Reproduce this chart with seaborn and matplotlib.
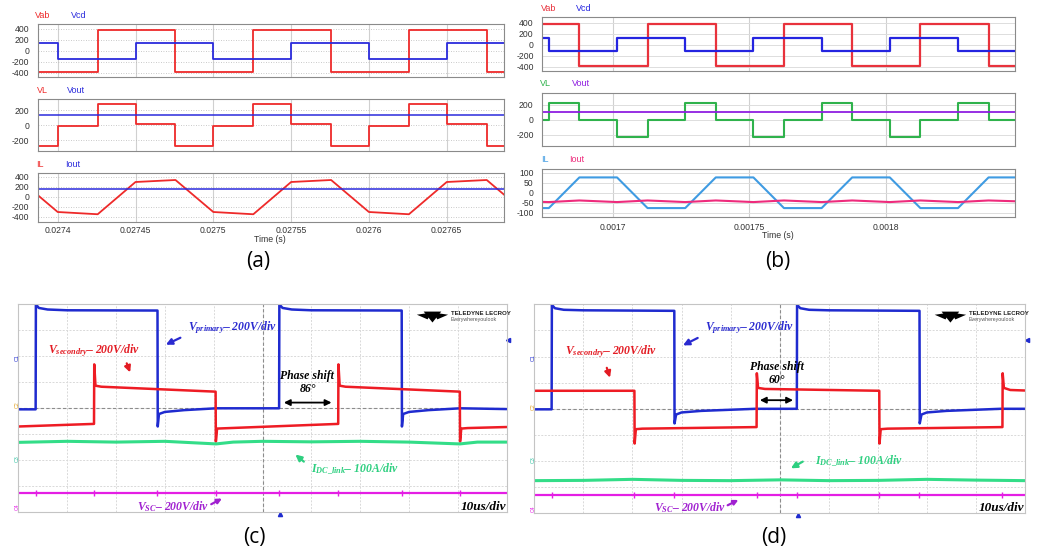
import numpy as np
import matplotlib
matplotlib.use("Agg")
import matplotlib.pyplot as plt
import seaborn as sns

# ---------------- data ----------------
# (a) simulation, time in s
A_XLIM = (0.02738715, 0.0276868)
A_XTICKS = [0.0274, 0.02745, 0.0275, 0.02755, 0.0276, 0.02765]
A_XTICKLABELS = ["0.0274", "0.02745", "0.0275", "0.02755", "0.0276", "0.02765"]
a_vab_edges = [0.0274257, 0.0274757, 0.0275257, 0.0275757, 0.0276257, 0.0276757]
a_vab_levels = [-385, 385, -385, 385, -385, 385, -385]
a_vcd_edges = [0.0274, 0.02745, 0.0275, 0.02755, 0.0276, 0.02765]
a_vcd_levels = [140, -140, 140, -140, 140, -140, 140]
a_vl_edges = [0.0274, 0.0274257, 0.02745, 0.0274757, 0.0275, 0.0275257,
              0.02755, 0.0275757, 0.0276, 0.0276257, 0.02765, 0.0276757]
a_vl_levels = [-280, -12, 282, 10, -280, -12, 282, 10, -280, -12, 282, 10, -280]
a_vout = 130
a_il_t = [0.0273757, 0.0274, 0.0274257, 0.02745, 0.0274757, 0.0275, 0.0275257,
          0.02755, 0.0275757, 0.0276, 0.0276257, 0.02765, 0.0276757, 0.0277]
a_il_v = [340, -300, -345, 300, 340, -300, -345, 300, 340, -300, -345, 300, 340, -300]
a_iout = 162

# (b) simulation, time in s
B_XLIM = (0.001674, 0.0018475)
B_XTICKS = [0.0017, 0.00175, 0.0018]
B_XTICKLABELS = ["0.0017", "0.00175", "0.0018"]
b_vab_edges = [0.0016877, 0.0017127, 0.0017377, 0.0017627, 0.0017877, 0.0018127, 0.0018377]
b_vab_levels = [380, -383, 380, -383, 380, -383, 380, -383]
b_vcd_edges = [0.0016765, 0.0017015, 0.0017265, 0.0017515, 0.0017765, 0.0018015, 0.0018265]
b_vcd_levels = [112, -118, 112, -118, 112, -118, 112, -118]
b_vl_edges = [0.0016765, 0.0016877, 0.0017015, 0.0017127, 0.0017265, 0.0017377, 0.0017515,
              0.0017627, 0.0017765, 0.0017877, 0.0018015, 0.0018127, 0.0018265, 0.0018377]
b_vl_levels = [0, 220, 0, -228, 0, 220, 0, -228, 0, 220, 0, -228, 0, 220, 0]
b_vout = 110
b_il_t = [0.001674, 0.0016765, 0.0016877, 0.0017015, 0.0017127, 0.0017265, 0.0017377, 0.0017515,
          0.0017627, 0.0017765, 0.0017877, 0.0018015, 0.0018127, 0.0018265, 0.0018377, 0.0018475]
b_il_v = [-77, -77, 76, 76, -77, -77, 76, 76, -77, -77, 76, 76, -77, -77, 76, 76]
b_iout_v = [-46, -47, -39, -47, -39, -47, -39, -47, -39, -47, -39, -47, -39, -47, -39, -43]

# (c) oscilloscope, x and y in divisions
c_blue_x = [0, 0.355, 0.36, 0.42, 0.6, 1.0, 2.85, 2.855, 2.88, 3.0, 3.4, 4.05, 5.34, 5.345,
            5.41, 5.6, 6.0, 7.85, 7.855, 7.88, 8.0, 8.4, 9.05, 10]
c_blue_y = [-0.04, -0.04, 4.0, 3.86, 3.8, 3.77, 3.76, -0.7, -0.22, -0.14, -0.07, 0.0, 0.0, 4.0,
            3.86, 3.8, 3.77, 3.76, -0.7, -0.22, -0.14, -0.07, 0.0, -0.03]
c_red_x = [0, 1.55, 1.555, 1.58, 1.7, 4.04, 4.045, 4.07, 4.2, 6.55, 6.555, 6.58, 6.7, 9.04,
           9.045, 9.07, 9.2, 10]
c_red_y = [-0.7, -0.6, 1.69, 0.87, 0.83, 0.64, -1.28, -0.78, -0.77, -0.6, 1.69, 0.87, 0.83, 0.64,
           -1.28, -0.78, -0.76, -0.72]
c_green_x = [0, 1.0, 2.0, 3.0, 4.05, 4.4, 5.0, 6.0, 7.0, 8.0, 9.04, 9.4, 10]
c_green_y = [-1.31, -1.27, -1.3, -1.27, -1.37, -1.3, -1.27, -1.29, -1.27, -1.3, -1.37, -1.3, -1.3]
c_vsc = -3.24
c_switch = [0.355, 1.55, 2.85, 4.04, 5.34, 6.55, 7.85, 9.04]

# (d) oscilloscope
d_blue_x = [0, 0.353, 0.358, 0.42, 0.6, 1.0, 2.853, 2.858, 2.89, 3.0, 3.4, 4.5, 5.35, 5.355,
            5.42, 5.6, 6.0, 7.85, 7.855, 7.89, 8.0, 8.4, 9.5, 10]
d_blue_y = [-0.02, -0.02, 3.98, 3.85, 3.79, 3.77, 3.75, -0.56, -0.22, -0.14, -0.08, 0.0, 0.0, 3.98,
            3.85, 3.79, 3.77, 3.75, -0.56, -0.22, -0.14, -0.08, 0.0, 0.0]
d_red_x = [0, 2.04, 2.045, 2.07, 2.2, 4.53, 4.535, 4.56, 4.7, 7.03, 7.035, 7.06, 7.2, 9.54,
           9.545, 9.57, 9.7, 10]
d_red_y = [0.69, 0.69, -1.33, -0.78, -0.76, -0.7, 1.36, 0.8, 0.76, 0.69, -1.33, -0.78, -0.76, -0.7,
           1.36, 0.8, 0.72, 0.7]
d_green_x = [0, 1.0, 2.0, 3.0, 4.0, 5.0, 6.0, 7.0, 8.0, 9.0, 10]
d_green_y = [-2.75, -2.74, -2.7, -2.74, -2.75, -2.72, -2.75, -2.74, -2.7, -2.73, -2.75]
d_vsc = -3.31
d_switch = [0.353, 2.04, 2.853, 4.53, 5.35, 7.03, 7.85, 9.54]

# ---------------- style ----------------
sns.set_theme(style="white")
plt.rcParams["font.family"] = ["Liberation Sans", "DejaVu Sans"]
plt.rcParams["mathtext.fontset"] = "custom"
plt.rcParams["mathtext.it"] = "Liberation Serif:italic:bold"
plt.rcParams["mathtext.rm"] = "Liberation Serif:bold"
plt.rcParams["mathtext.bf"] = "Liberation Serif:bold"

W, H = 1042, 559
fig = plt.figure(figsize=(W / 100, H / 100), dpi=100)


def box(l, t, r, b):
    return [l / W, 1 - b / H, (r - l) / W, (b - t) / H]


def steps(edges, levels, x0, x1):
    xs, ys = [x0], [levels[0]]
    for e, lo, hi in zip(edges, levels[:-1], levels[1:]):
        xs += [e, e]
        ys += [lo, hi]
    xs.append(x1)
    ys.append(levels[-1])
    return xs, ys


def line(ax, x, y, color, lw):
    sns.lineplot(x=x, y=y, ax=ax, color=color, lw=lw, estimator=None, sort=False, legend=False)


def sim_axes(ax, xlim, xticks, xlabels, ylim, yticks, show_x):
    ax.set_xlim(xlim)
    ax.set_ylim(ylim)
    ax.set_xticks(xticks)
    ax.set_yticks(yticks)
    ax.set_yticklabels([str(v) for v in yticks])
    ax.set_xticklabels(xlabels if show_x else [])
    ax.tick_params(length=0, labelsize=6.2, colors="#333333", pad=6)
    ax.grid(axis="x", color="#d0d0d0", lw=0.8)
    ax.grid(axis="y", color="#b8b8b8", lw=0.6, ls=(0, (1, 2)))
    ax.set_xlabel("")
    ax.set_ylabel("")
    for s in ax.spines.values():
        s.set_color("#8a8a8a")
        s.set_linewidth(0.8)


def fig_label(x, y, txt, color, size=6.5):
    fig.text(x / W, 1 - y / H, txt, color=color, fontsize=size, ha="center", va="center")


# ---------------- panel (a) ----------------
RED_A, BLUE_A = "#ee2a2a", "#2b2bdc"
a1 = fig.add_axes(box(37.7, 24, 504, 76.7))
x, y = steps(a_vab_edges, a_vab_levels, 0.02738, 0.0277)
line(a1, x, y, RED_A, 1.3)
x, y = steps(a_vcd_edges, a_vcd_levels, 0.02738, 0.0277)
line(a1, x, y, BLUE_A, 1.3)
sim_axes(a1, A_XLIM, A_XTICKS, A_XTICKLABELS, (-470, 490), [400, 200, 0, -200, -400], False)

a2 = fig.add_axes(box(37.7, 98.7, 504, 151))
x, y = steps(a_vl_edges, a_vl_levels, 0.02738, 0.0277)
line(a2, x, y, RED_A, 1.3)
line(a2, [0.02738, 0.0277], [a_vout, a_vout], BLUE_A, 1.1)
sim_axes(a2, A_XLIM, A_XTICKS, A_XTICKLABELS, (-348, 356), [200, 0, -200], False)

a3 = fig.add_axes(box(37.7, 173.3, 504, 221.7))
line(a3, a_il_t, a_il_v, RED_A, 1.3)
line(a3, [0.02738, 0.0277], [a_iout, a_iout], BLUE_A, 1.1)
sim_axes(a3, A_XLIM, A_XTICKS, A_XTICKLABELS, (-494, 474), [400, 200, 0, -200, -400], True)
a3.tick_params(axis="x", pad=3)

fig_label(43, 15.7, "Vab", RED_A)
fig_label(79, 15.7, "Vcd", BLUE_A)
fig_label(42, 90.7, "VL", RED_A)
fig_label(76, 90.7, "Vout", BLUE_A)
fig_label(40, 164.3, "IL", RED_A)
fig_label(72.7, 164.3, "Iout", BLUE_A)
fig_label(270, 240, "Time (s)", "#333333", 6.3)

# ---------------- panel (b) ----------------
RED_B, BLUE_B, GREEN_B = "#e8323c", "#2424e0", "#2fb24c"
PURPLE_B, LBLUE_B, PINK_B = "#8f1fe0", "#3f9be2", "#ee2b7c"
b1 = fig.add_axes(box(542, 17.3, 1015.3, 71))
x, y = steps(b_vab_edges, b_vab_levels, 0.00167, 0.00185)
line(b1, x, y, RED_B, 1.6)
x, y = steps(b_vcd_edges, b_vcd_levels, 0.00167, 0.00185)
line(b1, x, y, BLUE_B, 1.6)
sim_axes(b1, B_XLIM, B_XTICKS, B_XTICKLABELS, (-478, 495), [400, 200, 0, -200, -400], False)

b2 = fig.add_axes(box(542, 93.3, 1015.3, 146))
x, y = steps(b_vl_edges, b_vl_levels, 0.00167, 0.00185)
line(b2, x, y, GREEN_B, 1.5)
line(b2, [0.00167, 0.00185], [b_vout, b_vout], PURPLE_B, 1.3)
sim_axes(b2, B_XLIM, B_XTICKS, B_XTICKLABELS, (-355, 358), [200, 0, -200], False)

b3 = fig.add_axes(box(542, 169, 1015.3, 217.3))
line(b3, b_il_t, b_il_v, LBLUE_B, 1.5)
line(b3, b_il_t, b_iout_v, PINK_B, 1.5)
sim_axes(b3, B_XLIM, B_XTICKS, B_XTICKLABELS, (-123, 118), [100, 50, 0, -50, -100], True)
b3.tick_params(axis="x", pad=4)
for ax in (b1, b2, b3):
    ax.grid(axis="y", color="#dddddd", lw=0.7, ls="-")

fig_label(549, 8.3, "Vab", RED_B)
fig_label(584, 8.3, "Vcd", BLUE_B)
fig_label(545, 84, "VL", GREEN_B)
fig_label(581, 84, "Vout", PURPLE_B)
fig_label(545, 159, "IL", LBLUE_B)
fig_label(577, 159, "Iout", PINK_B)
fig_label(778, 235, "Time (s)", "#333333", 6.3)

# ---------------- panels (c), (d) ----------------
S_BLUE, S_RED, S_GREEN, S_MAG = "#1f2bcf", "#ee1c24", "#33dd88", "#e41ee4"
T_BLUE, T_RED, T_GREEN, T_VIO = "#2a2ad0", "#e31b23", "#2ecf80", "#a020d0"
serif = dict(family="Liberation Serif", weight="bold", style="italic")
TXT = 8.5


def scope_axes(ax):
    ax.set_xlim(0, 10)
    ax.set_ylim(-4, 4)
    ax.set_xticks([])
    ax.set_yticks([])
    for v in range(1, 10):
        ax.axvline(v, color="#d9d9d9", lw=0.7, ls=(0, (2, 1.5)), zorder=0)
    for h in range(-3, 4):
        ax.axhline(h, color="#d9d9d9", lw=0.7, ls=(0, (2, 1.5)), zorder=0)
    ax.axvline(5, color="#8c8c8c", lw=0.8, ls=(0, (3, 2)), zorder=0)
    ax.axhline(0, color="#8c8c8c", lw=0.8, ls=(0, (3, 2)), zorder=0)
    for s in ax.spines.values():
        s.set_color("#c4c4c4")
        s.set_linewidth(0.8)
    # logo
    ax.fill([8.3, 8.66, 8.48], [3.72, 3.72, 3.3], color="black", lw=0)
    ax.fill([8.16, 8.46, 8.38], [3.6, 3.68, 3.42], color="black", lw=0)
    ax.fill([8.5, 8.8, 8.58], [3.68, 3.6, 3.42], color="black", lw=0)
    ax.text(8.85, 3.64, "TELEDYNE LECROY", fontsize=4.4, weight="bold", color="#222222",
            ha="left", va="center", family="Liberation Sans")
    ax.text(8.85, 3.42, "Everywhereyoulook", fontsize=3.8, color="#555555",
            ha="left", va="center", family="Liberation Sans")
    ax.text(9.98, -3.78, "10us/div", fontsize=9.5, color="black", ha="right", va="center", **serif)


def scope(ax, bx, by, rx, ry, gx, gy, vsc, switch):
    line(ax, bx, by, S_BLUE, 1.8)
    line(ax, rx, ry, S_RED, 1.8)
    line(ax, gx, gy, S_GREEN, 2.2)
    line(ax, [0, 10], [vsc, vsc], S_MAG, 1.6)
    sns.scatterplot(x=switch, y=[vsc] * len(switch), ax=ax, marker="|", s=14,
                    color=S_MAG, linewidth=1.0, legend=False)
    scope_axes(ax)


def arrow(ax, start, end, color, style="-|>", lw=1.6, ms=9):
    ax.annotate("", xy=end, xytext=start,
                arrowprops=dict(arrowstyle=style, color=color, lw=lw, mutation_scale=ms))


def chan_marks(ax, ys):
    cols = [S_BLUE, "#e0a020", "#30c0a0", S_MAG]
    for yv, name, c in zip(ys, ["C1", "C2", "C3", "C4"], cols):
        ax.text(-0.03, yv, name, fontsize=3.8, color=c, rotation=90, ha="center", va="center",
                clip_on=False)


c_ax = fig.add_axes(box(18.3, 304.3, 506.7, 512.3))
scope(c_ax, c_blue_x, c_blue_y, c_red_x, c_red_y, c_green_x, c_green_y, c_vsc, c_switch)
c_ax.text(3.48, 3.12, r"$V_{primary}$– 200V/div", color=T_BLUE, fontsize=TXT, ha="left", va="center", **serif)
arrow(c_ax, (3.37, 2.76), (2.97, 2.40), T_BLUE)
c_ax.text(0.61, 2.2, r"$V_{secondry}$– 200V/div", color=T_RED, fontsize=TXT, ha="left", va="center", **serif)
arrow(c_ax, (2.2, 1.83), (2.31, 1.28), T_RED)
c_ax.text(5.92, 1.24, "Phase shift", color="black", fontsize=TXT, ha="center", va="center", **serif)
c_ax.text(5.94, 0.74, "86°", color="black", fontsize=TXT, ha="center", va="center", **serif)
arrow(c_ax, (5.38, 0.22), (6.47, 0.22), "black", "<|-|>", 1.3)
c_ax.text(6.0, -2.31, r"$I_{DC\_link}$– 100A/div", color=T_GREEN, fontsize=TXT, ha="left", va="center", **serif)
arrow(c_ax, (5.89, -2.12), (5.63, -1.71), T_GREEN)
c_ax.text(2.44, -3.78, r"$V_{SC}$– 200V/div", color=T_VIO, fontsize=TXT, ha="left", va="center", **serif)
arrow(c_ax, (3.9, -3.74), (4.22, -3.42), T_VIO, ms=7)
chan_marks(c_ax, [1.96, 0.13, -1.92, -3.78])
c_ax.plot([10.03], [2.63], marker="<", color=S_BLUE, ms=3, clip_on=False)
c_ax.plot([5.36], [-4.08], marker="^", color=S_BLUE, ms=3, clip_on=False)

d_ax = fig.add_axes(box(534.3, 304.3, 1025, 513.3))
scope(d_ax, d_blue_x, d_blue_y, d_red_x, d_red_y, d_green_x, d_green_y, d_vsc, d_switch)
d_ax.text(3.48, 3.09, r"$V_{primary}$– 200V/div", color=T_BLUE, fontsize=TXT, ha="left", va="center", **serif)
arrow(d_ax, (3.38, 2.76), (2.98, 2.38), T_BLUE)
d_ax.text(0.63, 2.19, r"$V_{secondry}$– 200V/div", color=T_RED, fontsize=TXT, ha="left", va="center", **serif)
arrow(d_ax, (1.46, 1.67), (1.56, 1.09), T_RED)
d_ax.text(4.94, 1.6, "Phase shift", color="black", fontsize=TXT, ha="center", va="center", **serif)
d_ax.text(4.94, 1.09, "60°", color="black", fontsize=TXT, ha="center", va="center", **serif)
arrow(d_ax, (4.54, 0.33), (5.33, 0.33), "black", "<|-|>", 1.3)
d_ax.text(5.72, -1.96, r"$I_{DC\_link}$– 100A/div", color=T_GREEN, fontsize=TXT, ha="left", va="center", **serif)
arrow(d_ax, (5.52, -1.97), (5.18, -2.33), T_GREEN)
d_ax.text(2.43, -3.79, r"$V_{SC}$– 200V/div", color=T_VIO, fontsize=TXT, ha="left", va="center", **serif)
arrow(d_ax, (3.89, -3.74), (4.21, -3.44), T_VIO, ms=7)
chan_marks(d_ax, [1.96, 0.08, -1.96, -3.84])
d_ax.plot([10.05], [2.63], marker="<", color=S_BLUE, ms=3, clip_on=False)
d_ax.plot([5.38], [-4.08], marker="^", color=S_BLUE, ms=3, clip_on=False)

# ---------------- panel letters ----------------
for px, py, t in [(258, 262, "(a)"), (778, 262, "(b)"), (254, 537, "(c)"), (774, 538, "(d)")]:
    fig.text(px / W, 1 - py / H, t, fontsize=15, ha="center", va="center", family="Open Sans", color="black")

fig.savefig("out.png", dpi=100, facecolor="white")
